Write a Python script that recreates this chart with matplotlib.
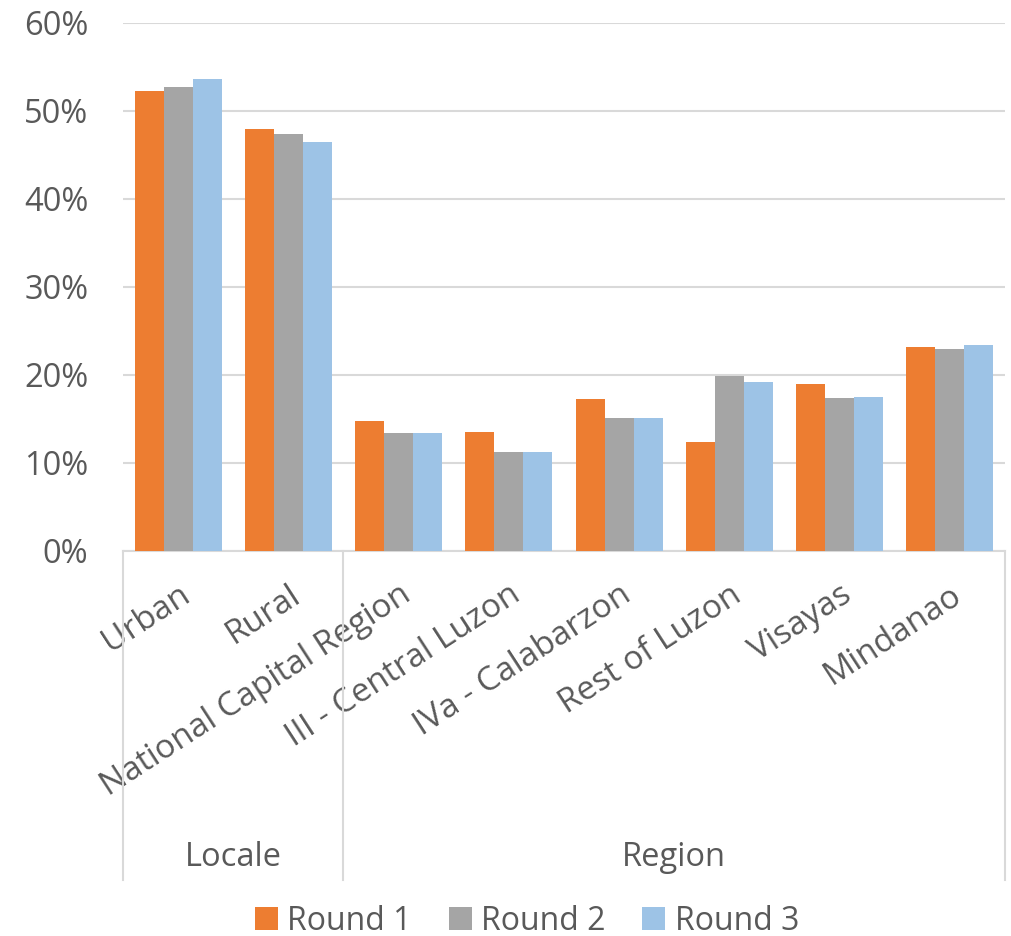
import matplotlib
matplotlib.use('Agg')
import numpy as np
import matplotlib.pyplot as plt
from matplotlib.ticker import PercentFormatter
import matplotlib.transforms as mtrans

plt.rcParams['font.family'] = ['Open Sans', 'DejaVu Sans']

categories = ['Urban', 'Rural', 'National Capital Region', 'III - Central Luzon',
              'IVa - Calabarzon', 'Rest of Luzon', 'Visayas', 'Mindanao']
groups = ['Locale', 'Region']
group_sizes = [2, 6]
series = ['Round 1', 'Round 2', 'Round 3']
round1 = [52.2, 47.9, 14.7, 13.5, 17.2, 12.3, 18.9, 23.1]
round2 = [52.7, 47.3, 13.3, 11.2, 15.1, 19.8, 17.3, 22.9]
round3 = [53.6, 46.4, 13.3, 11.2, 15.1, 19.2, 17.45, 23.35]
colors = ['#ED7D31', '#A5A5A5', '#9DC3E6']

txt = '#595959'
grid_c = '#D9D9D9'

fig = plt.figure(figsize=(10.12, 9.36), dpi=100)
ax = fig.add_axes([123/1012, 1 - 550.5/936, 882/1012, 528/936])

x = np.arange(len(categories))
w = 0.263
for k, (vals, c, name) in enumerate(zip([round1, round2, round3], colors, series)):
    ax.bar(x + (k - 1) * w, np.array(vals) / 100, width=w, color=c, label=name, zorder=3)

ax.set_xlim(-0.5, len(categories) - 0.5)
ax.set_ylim(0, 0.6)
ax.set_yticks(np.arange(0, 0.61, 0.1))
ax.yaxis.set_major_formatter(PercentFormatter(1.0, decimals=0))
ax.grid(axis='y', color=grid_c, linewidth=1.5, zorder=0)
for s in ['top', 'right', 'left']:
    ax.spines[s].set_visible(False)
ax.spines['bottom'].set_color(grid_c)
ax.spines['bottom'].set_linewidth(1.5)
ax.tick_params(axis='y', length=0, labelsize=23.5, labelcolor=txt, pad=25)
ax.tick_params(axis='x', length=0)
ax.set_xticks(x)
ax.set_xticklabels(categories, rotation=33, ha='right', rotation_mode='anchor',
                   fontsize=24, color=txt)
ax.tick_params(axis='x', pad=20)

# group separators and group labels
trans = mtrans.blended_transform_factory(ax.transData, ax.transAxes)
bottom = -329.5 / 528
edges = [-0.5]
for n in group_sizes:
    edges.append(edges[-1] + n)
for e in edges:
    ax.plot([e, e], [0, bottom], color=grid_c, linewidth=1.5, transform=trans, clip_on=False)
for g, a, b in zip(groups, edges[:-1], edges[1:]):
    ax.text((a + b) / 2, -307 / 528, g, transform=trans, ha='center', va='center',
            fontsize=23.5, color=txt)

fig.legend(loc='center', bbox_to_anchor=(527/1012, 1 - 921/936), ncol=3, frameon=False,
           fontsize=23, labelcolor=txt, handlelength=0.72, handleheight=0.72,
           handletextpad=0.3, columnspacing=1.15, borderaxespad=0)

plt.savefig('out.png', dpi=100)
plt.close()
